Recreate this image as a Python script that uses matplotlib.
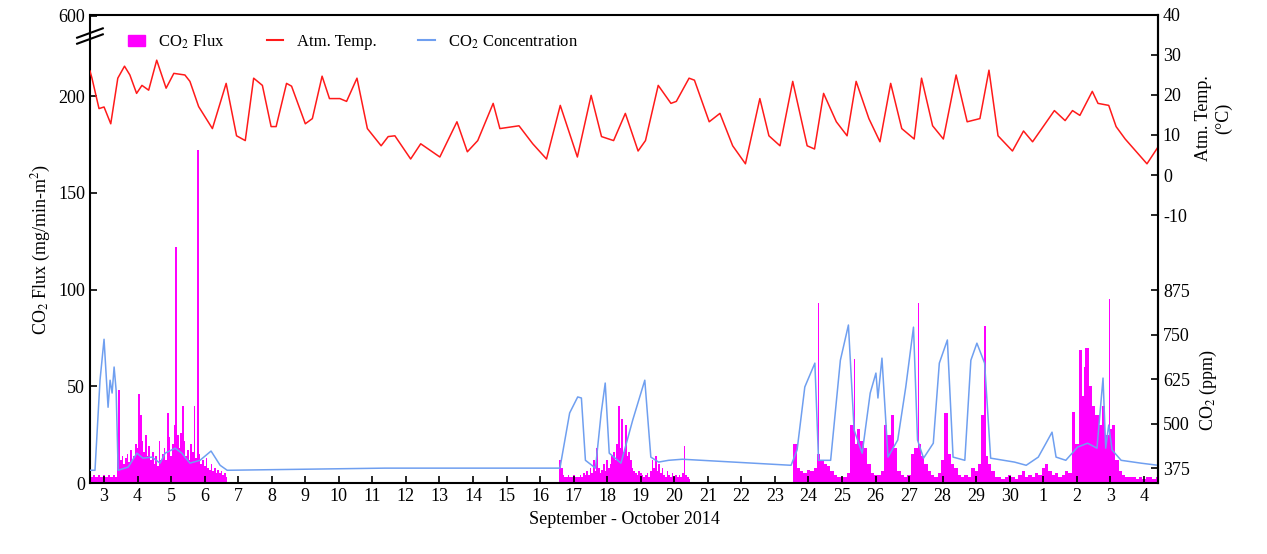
import matplotlib
matplotlib.use("Agg")
import matplotlib.pyplot as plt
import numpy as np
from matplotlib.patches import Patch
from matplotlib.lines import Line2D

plt.rcParams['font.family'] = ['Liberation Serif', 'DejaVu Serif']
plt.rcParams['font.size'] = 13
plt.rcParams['mathtext.fontset'] = 'stix'
plt.rcParams['axes.unicode_minus'] = False

# ---- data (x = day of September; Oct 1 = 31) ----
temp_t = [2.58, 2.64, 2.85, 3.00, 3.20, 3.41, 3.61, 3.77, 3.97, 4.13, 4.33, 4.57, 4.85, 5.08, 5.41,
          5.56, 5.82, 6.23, 6.64, 6.95, 7.21, 7.46, 7.72, 7.98, 8.13, 8.44, 8.59, 9.00, 9.21, 9.50,
          9.72, 10.03, 10.23, 10.54, 10.85, 11.26, 11.47, 11.67, 12.14, 12.44, 13.01, 13.52, 13.83,
          14.14, 14.60, 14.80, 15.37, 15.78, 16.19, 16.60, 17.11, 17.52, 17.83, 18.19, 18.54, 18.92,
          19.14, 19.52, 19.90, 20.06, 20.44, 20.60, 21.04, 21.36, 21.74, 22.12, 22.55, 22.82, 23.15,
          23.53, 23.96, 24.18, 24.45, 24.83, 25.15, 25.42, 25.80, 26.13, 26.45, 26.78, 27.15, 27.37,
          27.70, 28.02, 28.40, 28.73, 29.11, 29.38, 29.65, 30.08, 30.41, 30.68, 31.33, 31.65, 31.87,
          32.09, 32.46, 32.63, 32.95, 33.17, 33.44, 34.09, 34.42]
temp_v = [26.0, 24.2, 16.6, 17.0, 12.8, 24.2, 27.2, 25.0, 20.4, 22.4, 21.2, 28.7, 21.7, 25.4, 25.0,
          23.4, 17.1, 11.6, 22.9, 9.8, 8.6, 24.2, 22.4, 12.1, 12.1, 22.9, 22.2, 12.8, 14.1, 24.7,
          19.1, 19.1, 18.4, 24.2, 11.6, 7.3, 9.6, 9.8, 4.0, 7.8, 4.5, 13.3, 5.8,
          8.6, 17.9, 11.6, 12.3, 7.8, 4.0, 17.4, 4.5, 19.9, 9.6, 8.6, 15.4, 6.0,
          8.6, 22.4, 17.9, 18.4, 24.2, 23.7, 13.3, 15.4, 7.3, 2.8, 19.1, 9.8, 7.3,
          23.4, 7.3, 6.5, 20.4, 13.3, 9.8, 23.4, 14.1, 8.3, 22.9, 11.6, 9.0, 24.2,
          12.3, 9.0, 25.0, 13.3, 14.1, 26.2, 9.8, 6.0, 11.0, 8.3, 16.1, 13.6, 16.1,
          14.9, 20.9, 17.9, 17.4, 12.1, 9.0, 2.8, 7.0]

co2_t = [2.58, 2.73, 2.88, 3.00, 3.12, 3.18, 3.24, 3.30, 3.36, 3.42, 3.72, 3.98, 4.16, 4.43, 4.67,
         4.82, 5.12, 5.32, 5.56, 5.86, 6.19, 6.46, 6.67, 11.38, 16.00, 16.59, 16.88, 17.12, 17.23,
         17.35, 17.65, 17.82, 17.94, 18.06, 18.41, 18.76, 19.12, 19.30, 19.53, 19.83, 20.24, 23.48,
         23.66, 23.89, 24.19, 24.30, 24.66, 24.95, 25.19, 25.36, 25.60, 25.84, 26.01, 26.07, 26.19,
         26.37, 26.66, 26.90, 27.13, 27.25, 27.43, 27.72, 27.90, 28.14, 28.31, 28.66, 28.84, 29.02,
         29.25, 29.43, 30.14, 30.49, 30.85, 31.08, 31.26, 31.38, 31.67, 32.02, 32.32, 32.60, 32.78,
         32.86, 32.95, 33.05, 33.32, 33.91, 34.42]
co2_v = [369, 369, 622, 737, 546, 622, 586, 659, 594, 369, 378, 417, 403, 406, 389,
         417, 431, 417, 389, 397, 423, 383, 369, 375, 375, 375, 530, 575, 572,
         397, 375, 530, 614, 417, 389, 510, 622, 406, 392, 397, 400, 383,
         426, 603, 670, 397, 397, 678, 777, 482, 417, 586, 642, 572, 684,
         406, 454, 603, 771, 454, 403, 445, 670, 735, 406, 397, 678, 726,
         670, 403, 392, 383, 406, 445, 476, 406, 397, 434, 445, 431, 628,
         431, 496, 426, 397, 389, 383]

flux1_start, flux1_step = 2.60, 0.05
flux1 = [3, 3, 4, 3, 3, 4, 3, 3, 4, 3, 3, 4, 3, 3, 4, 3,
         14, 48, 12, 14, 10, 13, 15, 11, 17, 12, 14, 20,
         18, 46, 35, 22, 16, 25, 14, 19, 12, 16,
         10, 14, 9, 22, 12, 15, 18, 12, 36, 24,
         14, 20, 30, 122, 25, 18, 26, 40, 22, 14,
         17, 12, 20, 16, 40, 13, 172, 15, 10, 12,
         9, 13, 8, 7, 10, 6, 8, 5, 7, 5, 6, 4, 5, 3]
flux2_start, flux2_step = 16.60, 0.05
flux2 = [12, 8, 4, 3, 3, 4, 3, 3, 4, 3, 3,
         3, 4, 3, 5, 4, 6, 4, 8, 5, 12,
         6, 18, 8, 5, 7, 10, 6, 12, 8, 10,
         14, 16, 12, 20, 40, 18, 33, 16, 30, 14,
         16, 12, 8, 6, 5, 4, 6, 5, 4, 3,
         4, 5, 3, 6, 12, 8, 14, 6, 10, 5,
         8, 4, 3, 6, 4, 3, 5, 3, 4, 3,
         4, 3, 5, 19, 4, 3, 2]
flux3_start, flux3_step = 23.60, 0.10
flux3 = [20, 8, 6, 5, 7, 6, 8, 15, 12, 10,
         9, 6, 4, 3, 3, 3, 5, 30, 20, 28,
         22, 18, 10, 5, 4, 4, 6, 30, 25, 35,
         18, 6, 4, 3, 4, 15, 18, 20, 14, 10,
         6, 4, 3, 5, 12, 36, 15, 10, 8, 4,
         3, 4, 3, 8, 6, 10, 35, 14, 10, 6,
         3, 3, 2, 3, 4, 3, 2, 4, 6, 3,
         4, 3, 5, 4, 8, 10, 6, 4, 5, 3,
         4, 6, 5, 37, 20, 69, 45, 70, 50, 40,
         35, 30, 40, 25, 28, 30, 12, 6, 4, 3,
         3, 3, 2, 3, 2, 3, 3, 2, 3]
spike_t = [24.30, 25.37, 27.27, 29.26, 32.97, 32.22]
spike_v = [93, 64, 93, 81, 95, 60]

tick_days = list(range(3, 35))
tick_labels = [str(d) for d in range(3, 31)] + ['1', '2', '3', '4']

# ---- figure ----
fig = plt.figure(figsize=(12.67, 5.54), dpi=100)
ax = fig.add_axes([0.071, 0.128, 0.843, 0.845])
mag = '#ff00ff'
for start, step, vals in [(flux1_start, flux1_step, flux1),
                          (flux2_start, flux2_step, flux2),
                          (flux3_start, flux3_step, flux3)]:
    t = start + step * np.arange(len(vals))
    ax.bar(t, vals, width=step, color=mag, linewidth=0)
ax.bar(spike_t, spike_v, width=0.035, color=mag, linewidth=0)

ax.set_xlim(2.58, 34.42)
ax.set_ylim(0, 242)
ax.set_yticks([0, 50, 100, 150, 200, 241.5])
ax.set_yticklabels(['0', '50', '100', '150', '200', '600'])
ax.set_xticks(tick_days)
ax.set_xticklabels(tick_labels)
ax.tick_params(direction='in', length=5, width=1.2)
ax.set_xlabel('September - October 2014')
ax.set_ylabel('CO$_2$ Flux (mg/min-m$^2$)')
for s in ax.spines.values():
    s.set_linewidth(1.5)
# axis break marks
for dy in (-3, 3):
    ax.plot([-0.012, 0.012], [0.955 + dy / 468 - 0.01, 0.955 + dy / 468 + 0.01],
            transform=ax.transAxes, color='black', lw=1.5, clip_on=False)

ax2 = ax.twinx()
ax2.plot(temp_t, temp_v, color='#ff1a1a', lw=1.1)
ax2.set_ylim(-77, 40)
ax2.set_yticks([-10, 0, 10, 20, 30, 40])
ax2.spines['right'].set_bounds(-10, 40)
ax2.tick_params(direction='in', length=5, width=1.2)
ax2.set_ylabel('Atm. Temp.\n(°C)', y=0.78, labelpad=6)
for k in ('top', 'bottom', 'left'):
    ax2.spines[k].set_visible(False)
ax2.spines['right'].set_linewidth(1.5)

ax3 = ax.twinx()
ax3.plot(co2_t, co2_v, color='#6f9ff0', lw=1.1)
ax3.set_ylim(333, 1648)
ax3.set_yticks([375, 500, 625, 750, 875])
ax3.spines['right'].set_bounds(333, 875)
ax3.tick_params(direction='in', length=5, width=1.2)
ax3.set_ylabel('CO$_2$ (ppm)', y=0.2, labelpad=6)
for k in ('top', 'bottom', 'left'):
    ax3.spines[k].set_visible(False)
ax3.spines['right'].set_linewidth(1.5)

handles = [Patch(color=mag), Line2D([], [], color='#ff1a1a'), Line2D([], [], color='#6f9ff0')]
ax3.legend(handles, ['CO$_2$ Flux', 'Atm. Temp.', 'CO$_2$ Concentration'], loc='upper left',
           bbox_to_anchor=(0.022, 0.995), ncol=3, frameon=False, fontsize=12,
           handlelength=1.0, columnspacing=2.5)

fig.savefig('out.png', dpi=100)
